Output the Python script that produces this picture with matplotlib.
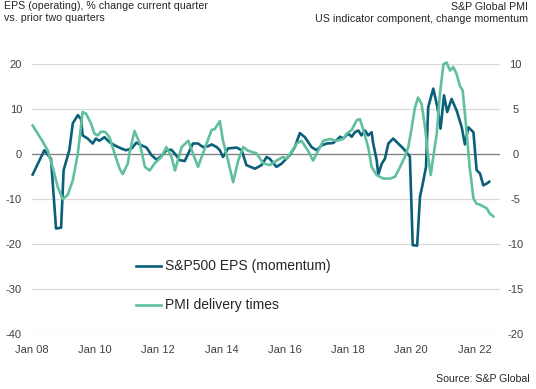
import matplotlib
matplotlib.use("Agg")
import matplotlib.pyplot as plt
from matplotlib.lines import Line2D

plt.rcParams['font.family'] = ['Liberation Sans', 'DejaVu Sans']
plt.rcParams['axes.unicode_minus'] = False

# dates as decimal years
eps_t = [2008.03, 2008.40, 2008.61, 2008.77, 2008.93, 2009.01, 2009.19, 2009.30,
         2009.46, 2009.56, 2009.61, 2009.77, 2009.93, 2010.03, 2010.14, 2010.30,
         2010.46, 2010.62, 2010.83, 2010.98, 2011.16, 2011.31, 2011.47, 2011.63,
         2011.79, 2011.95, 2012.10, 2012.26, 2012.42, 2012.53, 2012.68, 2012.84,
         2013.00, 2013.10, 2013.26, 2013.42, 2013.58, 2013.69, 2013.85, 2013.95,
         2014.05, 2014.21, 2014.48, 2014.64, 2014.79, 2015.06, 2015.27, 2015.43,
         2015.53, 2015.74, 2015.90, 2016.16, 2016.32, 2016.48, 2016.64, 2016.85,
         2017.01, 2017.17, 2017.33, 2017.53, 2017.64, 2017.75, 2017.85, 2018.01,
         2018.12, 2018.22, 2018.33, 2018.43, 2018.54, 2018.64, 2018.75, 2018.80,
         2018.91, 2018.96, 2019.07, 2019.17, 2019.28, 2019.43, 2019.59, 2019.75,
         2019.96, 2020.05, 2020.19, 2020.28, 2020.36, 2020.47, 2020.54, 2020.70,
         2020.83, 2020.93, 2021.04, 2021.14, 2021.28, 2021.44, 2021.60, 2021.70,
         2021.81, 2021.97, 2022.07, 2022.18, 2022.28, 2022.39, 2022.47]
eps = [-4.5, 0.9, -1.0, -16.5, -16.3, -3.5, 0.9, 6.9,
       8.7, 7.8, 4.2, 3.5, 2.4, 3.5, 3.0, 3.8,
       2.7, 2.0, 1.3, 0.9, 1.3, 2.6, 2.0, 1.5,
       -0.2, -1.2, -0.4, 0.9, 1.0, 0.1, -1.3, -1.5,
       0.9, 2.4, 2.4, 1.6, 1.8, 2.2, 1.6, 0.9,
       -0.6, 1.3, 1.5, 0.9, -2.4, -3.2, -2.4, -0.6,
       -1.0, -2.8, -2.1, -0.2, 1.6, 4.7, 3.8, 1.6,
       0.9, 2.0, 2.4, 2.5, 3.1, 3.9, 3.5, 4.6,
       3.9, 4.9, 5.3, 4.2, 5.3, 4.2, 4.9, 2.4,
       -1.3, -4.5, -2.1, -1.0, 2.4, 3.5, 2.4, 1.3,
       -0.5, -20.2, -20.3, -9.4, -6.8, -2.8, 10.5, 14.6,
       10.5, 5.7, 13.1, 9.4, 12.3, 9.7, 6.0, 2.2,
       6.0, 4.9, -3.5, -4.3, -6.9, -6.5, -6.1]

pmi_t = [2008.03, 2008.19, 2008.35, 2008.51, 2008.66, 2008.82, 2008.98, 2009.14,
         2009.30, 2009.46, 2009.61, 2009.72, 2009.88, 2009.98, 2010.09, 2010.19,
         2010.32, 2010.46, 2010.62, 2010.78, 2010.88, 2011.04, 2011.09, 2011.25,
         2011.42, 2011.58, 2011.73, 2011.89, 2012.10, 2012.26, 2012.42, 2012.53,
         2012.74, 2012.95, 2013.26, 2013.53, 2013.69, 2013.79, 2013.95, 2014.05,
         2014.21, 2014.37, 2014.53, 2014.69, 2014.84, 2015.11, 2015.32, 2015.53,
         2015.74, 2015.95, 2016.06, 2016.22, 2016.38, 2016.53, 2016.74, 2016.90,
         2017.06, 2017.22, 2017.43, 2017.64, 2017.85, 2017.96, 2018.12, 2018.28,
         2018.38, 2018.48, 2018.64, 2018.75, 2018.91, 2019.12, 2019.33, 2019.49,
         2019.65, 2019.80, 2019.91, 2020.02, 2020.12, 2020.22, 2020.33, 2020.44,
         2020.54, 2020.62, 2020.70, 2020.81, 2020.91, 2021.02, 2021.12, 2021.23,
         2021.33, 2021.44, 2021.54, 2021.63, 2021.73, 2021.85, 2021.97, 2022.07,
         2022.18, 2022.28, 2022.39, 2022.49, 2022.60]
pmi = [3.2, 2.3, 1.4, 0.4, -1.4, -3.6, -5.0, -4.5,
       -2.9, 0.1, 4.7, 4.5, 3.4, 2.3, 2.1, 2.5,
       2.5, 1.9, 0.1, -1.6, -2.2, -1.0, 0.1, 2.6,
       1.2, -1.4, -1.8, -1.0, -0.3, 0.8, -0.3, -1.8,
       0.8, 1.5, -1.4, 1.2, 2.7, 2.8, 3.7, 1.5,
       -0.7, -3.1, -0.7, 0.8, 0.4, 0.1, -1.0, -1.2,
       -0.7, -0.3, -0.5, 0.3, 1.2, 1.5, 0.4, -0.7,
       0.4, 1.5, 1.7, 1.5, 1.7, 2.3, 2.7, 3.8,
       3.9, 2.8, 0.8, -1.4, -2.3, -2.7, -2.7, -2.5,
       -1.4, -0.3, 0.8, 3.0, 5.2, 6.3, 5.6, 3.0,
       -0.3, -2.3, -0.3, 2.3, 6.7, 10.0, 10.2, 9.3,
       9.7, 8.9, 7.6, 7.1, 3.4, -1.4, -4.9, -5.5,
       -5.6, -5.8, -6.0, -6.6, -6.9]

tick_years = [2008, 2010, 2012, 2014, 2016, 2018, 2020, 2022]
tick_labels = ['Jan 08', 'Jan 10', 'Jan 12', 'Jan 14', 'Jan 16', 'Jan 18', 'Jan 20', 'Jan 22']

dark = '#0b5f7b'
light = '#5fbf9e'
txt = '#262626'

fig = plt.figure(figsize=(5.36, 3.89), dpi=100)
ax = fig.add_axes([31.7 / 536, 1 - 334.3 / 389, (500 - 31.7) / 536, (334.3 - 64.3) / 389])
ax2 = ax.twinx()

# left axis (EPS)
ax.set_xlim(2008.0, 2022.81)
ax.set_ylim(-40, 20)
ax.set_yticks(range(-40, 21, 10))
ax.grid(axis='y', color='#d9d9d9', lw=0.9)
ax.set_axisbelow(True)
ax.axhline(0, color='#808080', lw=0.9, zorder=1)
ax.plot(eps_t, eps, color=dark, lw=1.9, zorder=3, solid_joinstyle='round', clip_on=False)

# right axis (PMI)
ax2.set_ylim(-20, 10)
ax2.set_yticks(range(-20, 11, 5))
ax2.plot(pmi_t, pmi, color=light, lw=1.9, solid_joinstyle='round', clip_on=False)

ax.set_xticks(tick_years)
ax.set_xticklabels(tick_labels)
for a in (ax, ax2):
    for s in a.spines.values():
        s.set_visible(False)
    a.tick_params(length=0, labelsize=8, colors='#404040')
ax.tick_params(axis='x', pad=8)
ax.tick_params(axis='y', pad=7)
ax2.tick_params(axis='y', pad=11)
for lab in ax2.get_yticklabels():
    lab.set_horizontalalignment('center')

# headers
fig.text(4 / 536, 1 - 12 / 389, 'EPS (operating), % change current quarter\nvs. prior two quarters',
         ha='left', va='center', fontsize=7.7, color=txt, linespacing=1.15)
fig.text(528 / 536, 1 - 13 / 389, 'S&P Global PMI\nUS indicator component, change momentum',
         ha='right', va='center', fontsize=7.7, color=txt, linespacing=1.15, multialignment='right')
fig.text(530 / 536, 1 - 379 / 389, 'Source: S&P Global', ha='right', va='center',
         fontsize=7.6, color=txt)

# legend
legend_labels = ['S&P500 EPS (momentum)', 'PMI delivery times']
legend_colors = [dark, light]
legend_y = [266, 305]
for lab, col, y in zip(legend_labels, legend_colors, legend_y):
    fy = 1 - y / 389
    fig.add_artist(Line2D([136 / 536, 161 / 536], [fy, fy], color=col, lw=1.9,
                          transform=fig.transFigure))
    fig.text(165 / 536, fy, lab, ha='left', va='center', fontsize=10, color=txt)

fig.savefig('out.png', dpi=100)
